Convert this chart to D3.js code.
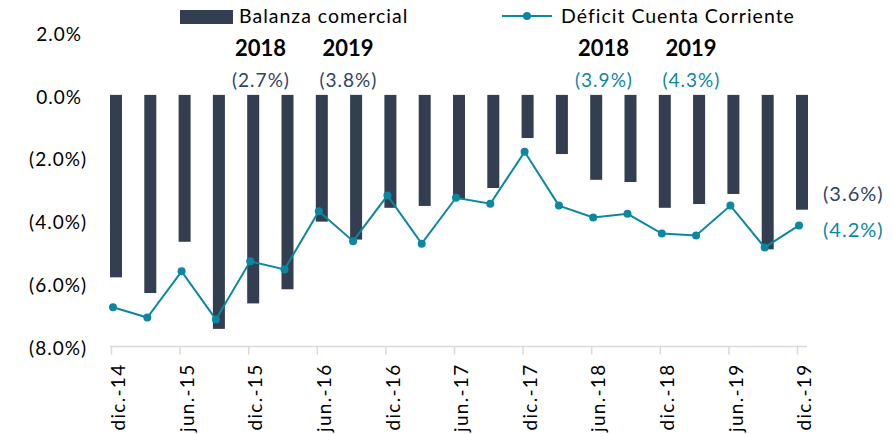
<!DOCTYPE html>
<html>
<head>
<meta charset="utf-8">
<script src="https://cdn.jsdelivr.net/npm/d3@7"></script>
<style>
  body { margin: 0; background: #fff; }
  svg { display: block; font-family: Lato, "Open Sans", sans-serif; }
</style>
</head>
<body>
<div id="chart"></div>
<script>
// quarters, dic-14 .. dic-19
const periods = ['dic.-14', 'mar.-15', 'jun.-15', 'sep.-15', 'dic.-15', 'mar.-16', 'jun.-16',
  'sep.-16', 'dic.-16', 'mar.-17', 'jun.-17', 'sep.-17', 'dic.-17', 'mar.-18', 'jun.-18',
  'sep.-18', 'dic.-18', 'mar.-19', 'jun.-19', 'sep.-19', 'dic.-19'];
const balanza = [-5.8, -6.3, -4.67, -7.44, -6.63, -6.18, -4.03, -4.6, -3.59, -3.53, -3.32,
  -2.96, -1.37, -1.88, -2.7, -2.77, -3.59, -3.47, -3.15, -4.91, -3.65];
const deficit = [-6.75, -7.08, -5.61, -7.14, -5.29, -5.55, -3.7, -4.65, -3.2, -4.73, -3.27,
  -3.46, -1.81, -3.52, -3.9, -3.78, -4.41, -4.47, -3.52, -4.85, -4.15];
const yTicks = [2, 0, -2, -4, -6, -8];
const seriesNames = ['Balanza comercial', 'Déficit Cuenta Corriente'];
const yearNotes = [
  {year: '2018', at: 4.3, value: '(2.7%)', series: 0},
  {year: '2019', at: 6.85, value: '(3.8%)', series: 0},
  {year: '2018', at: 14.3, value: '(3.9%)', series: 1},
  {year: '2019', at: 16.85, value: '(4.3%)', series: 1},
];
const endNotes = [
  {value: '(3.6%)', level: -3.15, series: 0},
  {value: '(4.2%)', level: -4.3, series: 1},
];

const width = 894, height = 434;
const navy = '#333e50', teal = '#0b87a2', navyText = '#2f4466';
const colors = [navyText, teal];

const svg = d3.select('#chart').append('svg')
  .attr('width', width)
  .attr('height', height);

const x = d3.scaleLinear().domain([0, periods.length - 1]).range([113, 799]);
const y = d3.scaleLinear().domain([-8, 2]).range([346.5, 32]);
const barW = 12;

// horizontal axis line and ticks
svg.append('line')
  .attr('x1', 110).attr('x2', 807)
  .attr('y1', y(-8)).attr('y2', y(-8))
  .attr('stroke', '#d9d9d9').attr('stroke-width', 1.5);

periods.forEach((p, i) => {
  if (i % 2) return;
  const tx = x(i) - 1.5;
  svg.append('line')
    .attr('x1', tx).attr('x2', tx)
    .attr('y1', y(-8)).attr('y2', y(-8) + 8)
    .attr('stroke', '#d9d9d9').attr('stroke-width', 1.5);
  svg.append('text')
    .attr('transform', `translate(${tx + 7},${y(-8) + 17}) rotate(-90)`)
    .attr('text-anchor', 'end')
    .attr('dy', '0.35em')
    .attr('font-size', 19)
    .attr('letter-spacing', 1.3)
    .attr('fill', '#000')
    .text(p);
});

// y labels
yTicks.forEach(v => {
  const neg = v < 0;
  const txt = (neg ? '(' : '') + Math.abs(v).toFixed(1) + '%' + (neg ? ')' : '');
  svg.append('text')
    .attr('x', neg ? 87 : 82)
    .attr('y', y(v) + 2)
    .attr('dy', '0.35em')
    .attr('text-anchor', 'end')
    .attr('font-size', 19)
    .attr('letter-spacing', 1)
    .attr('fill', '#000')
    .text(txt);
});

// bars
svg.append('g').selectAll('rect')
  .data(balanza)
  .join('rect')
  .attr('x', (d, i) => x(i) + 3 - barW / 2)
  .attr('y', y(0))
  .attr('width', barW)
  .attr('height', d => y(d) - y(0))
  .attr('fill', navy);

// line
const line = d3.line().x((d, i) => x(i)).y(d => y(d));
svg.append('path')
  .datum(deficit)
  .attr('d', line)
  .attr('fill', 'none')
  .attr('stroke', teal)
  .attr('stroke-width', 2);
svg.append('g').selectAll('circle')
  .data(deficit)
  .join('circle')
  .attr('cx', (d, i) => x(i))
  .attr('cy', d => y(d))
  .attr('r', 4)
  .attr('fill', teal);

// year annotations
yearNotes.forEach(n => {
  svg.append('text')
    .attr('x', x(n.at)).attr('y', 48)
    .attr('dy', '0.35em')
    .attr('text-anchor', 'middle')
    .attr('font-size', 22).attr('font-weight', 'bold')
    .attr('fill', '#000')
    .text(n.year);
  svg.append('text')
    .attr('x', x(n.at) + 0.5).attr('y', 80)
    .attr('dy', '0.35em')
    .attr('text-anchor', 'middle')
    .attr('font-size', 19)
    .attr('letter-spacing', 1)
    .attr('fill', colors[n.series])
    .text(n.value);
});

endNotes.forEach(n => {
  svg.append('text')
    .attr('x', 823).attr('y', y(n.level))
    .attr('dy', '0.35em')
    .attr('font-size', 20)
    .attr('letter-spacing', 1)
    .attr('fill', colors[n.series])
    .text(n.value);
});

// legend
svg.append('rect')
  .attr('x', 180).attr('y', 10)
  .attr('width', 53).attr('height', 14)
  .attr('fill', navy);
svg.append('text')
  .attr('x', 239).attr('y', 16)
  .attr('dy', '0.35em')
  .attr('font-size', 19.5)
  .attr('letter-spacing', 1)
  .attr('fill', '#000')
  .text(seriesNames[0]);
svg.append('line')
  .attr('x1', 502).attr('x2', 552)
  .attr('y1', 16).attr('y2', 16)
  .attr('stroke', teal).attr('stroke-width', 2);
svg.append('circle')
  .attr('cx', 527).attr('cy', 16).attr('r', 4)
  .attr('fill', teal);
svg.append('text')
  .attr('x', 561).attr('y', 16)
  .attr('dy', '0.35em')
  .attr('font-size', 19.5)
  .attr('letter-spacing', 1)
  .attr('fill', '#000')
  .text(seriesNames[1]);
</script>
</body>
</html>
